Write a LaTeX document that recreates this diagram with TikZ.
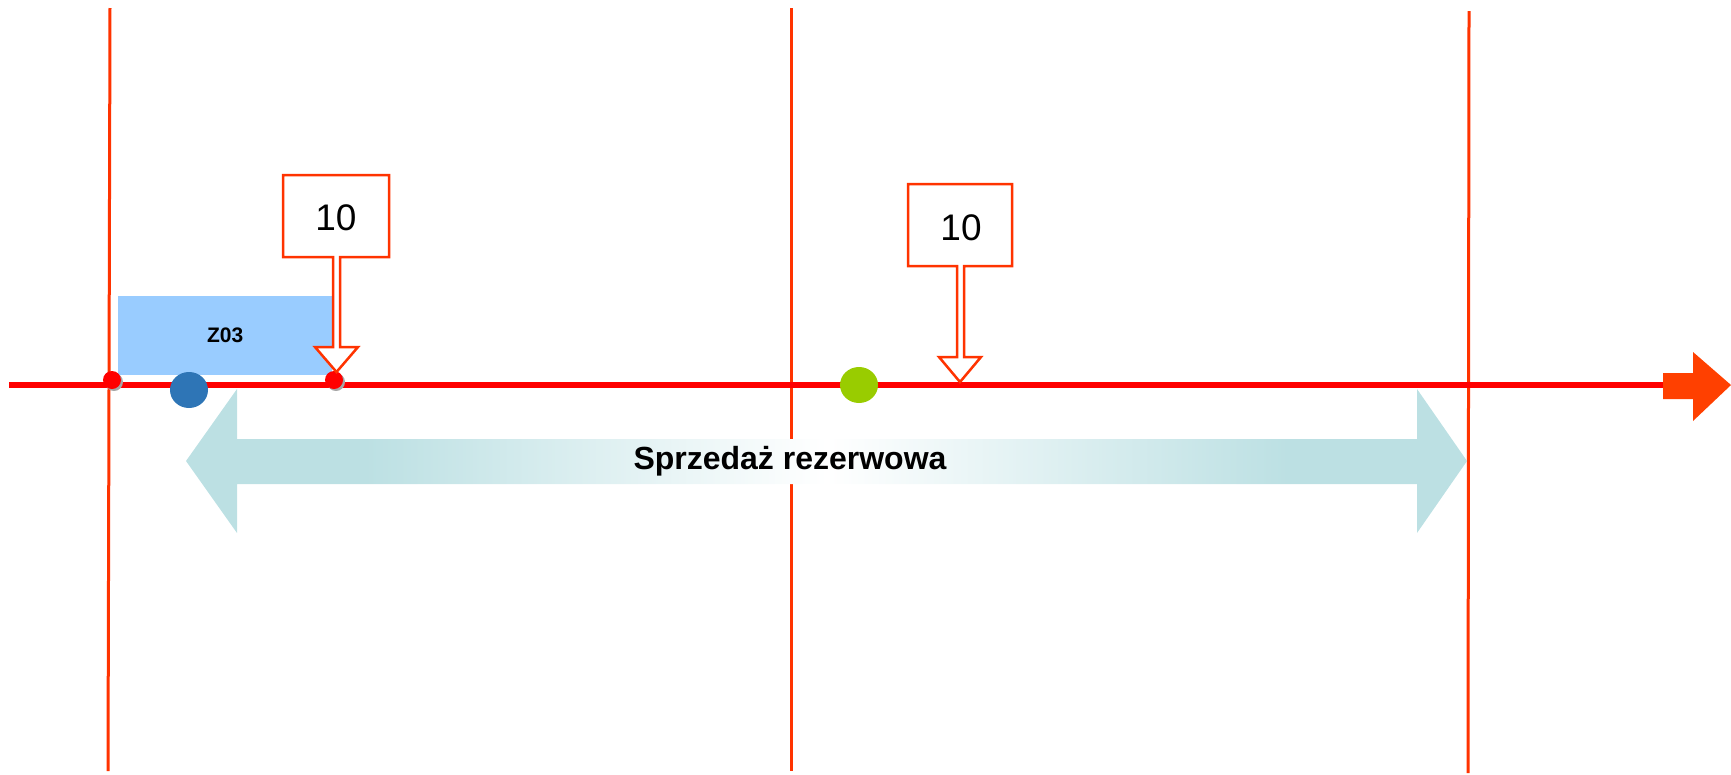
\documentclass[tikz,border=0pt]{standalone}
\usepackage{fontspec}
\setmainfont{Liberation Sans}
\definecolor{axisred}{HTML}{FF0000}
\definecolor{vred}{HTML}{FF3300}
\definecolor{headred}{HTML}{FF4000}
\definecolor{zblue}{HTML}{99CCFF}
\definecolor{dotblue}{HTML}{2E75B6}
\definecolor{dotgreen}{HTML}{99CC00}
\definecolor{bandteal}{RGB}{188,224,227}
\pgfdeclarehorizontalshading{bandshade}{100bp}{color(0bp)=(bandteal); color(25bp)=(bandteal); color(32bp)=(bandteal); color(50bp)=(white); color(68bp)=(bandteal); color(75bp)=(bandteal); color(100bp)=(bandteal)}
\tikzset{
  vline/.style={draw=vred, line width=3pt},
  axisline/.style={draw=axisred, line width=6pt},
  callout/.style={draw=vred, line width=2.5pt, fill=white, line join=miter},
  calltext/.style={font=\fontsize{37}{40}\selectfont, inner sep=0pt},
  reddot/.style={fill=axisred, draw=none},
  dotshadow/.style={fill=black!35, draw=none},
}
\begin{document}
\begin{tikzpicture}[x=1pt,y=-1pt]
\useasboundingbox (0,0) rectangle (1731,774);
% vertical lines
\coordinate (v1t) at (110,8);   \coordinate (v1b) at (108,771);
\coordinate (v2t) at (791,8);   \coordinate (v2b) at (791,771);
\coordinate (v3t) at (1469,11); \coordinate (v3b) at (1468,773);
\draw[vline] (v1t) -- (v1b);
\draw[vline] (v2t) -- (v2b);
\draw[vline] (v3t) -- (v3b);
% Z03 box
\node[fill=zblue, minimum width=214pt, minimum height=79pt, inner sep=0pt, anchor=north west,
      font=\bfseries\fontsize{21}{24}\selectfont] (z03) at (118,296) {Z03};
% axis
\coordinate (axs) at (9,385);
\coordinate (axe) at (1664,385);
\draw[axisline] (axs) -- (axe);
\fill[headred] (1663,373) -- (1693,373) -- (1693,352) -- (1731,385) -- (1693,421) -- (1693,399) -- (1663,399) -- cycle;
% double arrow band
\shade[shading=bandshade] (186,461) -- (237,389) -- (237,439) -- (1417,439) -- (1417,389) -- (1467,461)
   -- (1417,533) -- (1417,484) -- (237,484) -- (237,533) -- cycle;
\node[font=\bfseries\fontsize{32}{36}\selectfont, inner sep=0pt] (band) at (790,461) {Sprzedaż rezerwowa};
% dots
\fill[dotshadow] (114,382) circle (9);
\fill[reddot] (112,380) circle (9) coordinate (d1);
\fill[dotshadow] (336,382) circle (9);
\fill[reddot] (334,380) circle (9) coordinate (d2);
\fill[dotblue] (189,390) ellipse (19 and 18);
\fill[dotgreen] (859,385) ellipse (19 and 18);
% callout 1
\draw[callout] (283,175) -- (389,175) -- (389,257) -- (340,257) -- (340,347) -- (358,347) -- (336.5,372)
   -- (315,347) -- (333,347) -- (333,257) -- (283,257) -- cycle;
\node[calltext] (c1) at (336,218) {10};
% callout 2
\draw[callout] (908,184) -- (1012,184) -- (1012,266) -- (964,266) -- (964,357) -- (981,357) -- (960,382)
   -- (939,357) -- (957,357) -- (957,266) -- (908,266) -- cycle;
\node[calltext] (c2) at (961,228) {10};
\end{tikzpicture}
\end{document}
